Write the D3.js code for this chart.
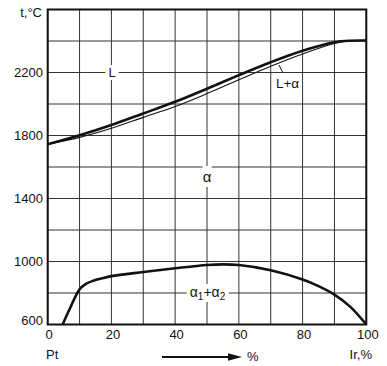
<!DOCTYPE html>
<html><head><meta charset="utf-8">
<script src="https://cdn.jsdelivr.net/npm/d3@7"></script>
<style>body{margin:0;background:#fff}svg{display:block}text{font-family:"Liberation Sans",Arial,sans-serif;fill:#111}</style>
</head><body><svg id="c" width="387" height="366"></svg>
<script>
// ---- data ----
const xGrid = [0,10,20,30,40,50,60,70,80,90,100];
const xTickLabels = [0,20,40,60,80,100];
const yGrid = [600,800,1000,1200,1400,1600,1800,2000,2200,2400,2600];
const yTickLabels = [600,1000,1400,1800,2200];
const liqX = [0,10,20,30,40,50,60,70,80,90,95,100];
const liquidus = [1745,1802,1867,1940,2014,2097,2183,2265,2338,2392,2402,2403];
const solX = [0,10,20,30,40,50,60,70,80,90,94,100];
const solidus = [1745,1788,1846,1915,1984,2066,2154,2240,2318,2384,2400,2403];
const gapX = [4.7,7,10,12,14.3,17,20,30,40,50,55,60,70,80,85,90,95,100];
const gapT = [600,703,823,858,878,893,907,933,957,978,982,978,945,886,844,790,712,600];

const svg = d3.select('#c');
const x = d3.scaleLinear().domain([0,100]).range([47.7,366.3]);
const y = d3.scaleLinear().domain([600,2600]).range([324.5,9.5]);

// grid
svg.append('g').selectAll('line.v').data(xGrid).join('line')
  .attr('x1',d=>x(d)).attr('x2',d=>x(d)).attr('y1',y(600)).attr('y2',y(2600))
  .attr('stroke','#333').attr('stroke-width',1);
svg.append('g').selectAll('line.h').data(yGrid).join('line')
  .attr('y1',d=>y(d)).attr('y2',d=>y(d)).attr('x1',x(0)).attr('x2',x(100))
  .attr('stroke','#333').attr('stroke-width',1);

// curves
const mk = (xs,ts)=>xs.map((v,i)=>[v,ts[i]]);
const line = d3.line().x(d=>x(d[0])).y(d=>y(d[1])).curve(d3.curveCatmullRom.alpha(0.5));
svg.append('path').attr('d',line(mk(solX,solidus))).attr('fill','none').attr('stroke','#111').attr('stroke-width',1.1);
svg.append('path').attr('d',line(mk(liqX,liquidus))).attr('fill','none').attr('stroke','#111').attr('stroke-width',2.6);
svg.append('path').attr('d',line(mk(gapX,gapT))).attr('fill','none').attr('stroke','#111').attr('stroke-width',2.6);

// frame
svg.append('rect').attr('x',x(0)).attr('y',y(2600)).attr('width',x(100)-x(0)).attr('height',y(600)-y(2600))
  .attr('fill','none').attr('stroke','#111').attr('stroke-width',2);

// tick labels
svg.append('g').selectAll('text').data(yTickLabels).join('text')
  .attr('x',43).attr('y',d=>y(d)+(d===600?0.5:4.5)).attr('text-anchor','end').attr('font-size',13).text(d=>d);
svg.append('g').selectAll('text').data(xTickLabels).join('text')
  .attr('x',d=>x(d)+1.5).attr('y',339).attr('text-anchor','middle').attr('font-size',13).text(d=>d);

svg.append('text').attr('x',42).attr('y',17).attr('text-anchor','end').attr('font-size',13).text('t,°C');
svg.append('text').attr('x',46).attr('y',359).attr('font-size',13).text('Pt');
svg.append('text').attr('x',372).attr('y',359).attr('text-anchor','end').attr('font-size',13).text('Ir,%');
svg.append('text').attr('x',247).attr('y',361).attr('font-size',13).text('%');

// arrow
svg.append('line').attr('x1',162).attr('x2',232).attr('y1',357).attr('y2',357).attr('stroke','#111').attr('stroke-width',1.8);
svg.append('path').attr('d','M228,353.3 L242,357 L228,360.7 Z').attr('fill','#111');

// region labels with white backgrounds
function label(tx,ty,txt,fs,pad){
  const g = svg.append('g');
  const r = g.append('rect').attr('fill','#fff');
  const t = g.append('text').attr('x',tx).attr('y',ty).attr('text-anchor','middle').attr('font-size',fs);
  txt(t);
  const b = t.node().getBBox();
  r.attr('x',b.x-pad[0]).attr('y',b.y-pad[1]).attr('width',b.width+2*pad[0]).attr('height',b.height+2*pad[1]);
  return g;
}
label(112,77,t=>t.text('L'),13,[3,0]);
label(x(50),182,t=>t.text('α'),15,[0,2]);
label(x(50)+0.5,297,t=>{
  t.append('tspan').text('α');
  t.append('tspan').attr('font-size',10).attr('dy',3).text('1');
  t.append('tspan').attr('dy',-3).text('+α');
  t.append('tspan').attr('font-size',10).attr('dy',3).text('2');
},14,[3,0]);
svg.append('text').attr('x',287.5).attr('y',88).attr('text-anchor','middle').attr('font-size',13.5).text('L+α');
svg.append('line').attr('x1',279).attr('y1',65).attr('x2',283).attr('y2',73).attr('stroke','#111').attr('stroke-width',1);
</script></body></html>
